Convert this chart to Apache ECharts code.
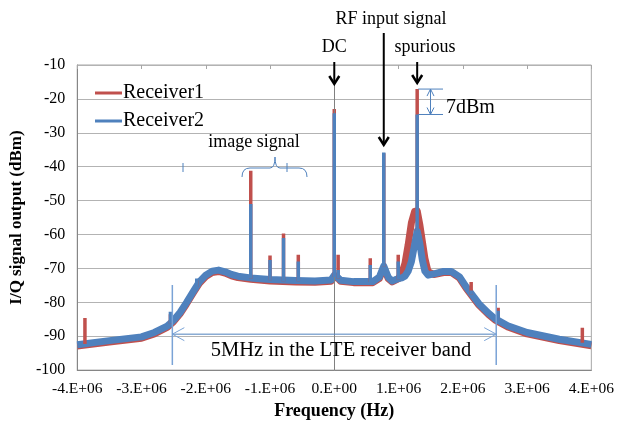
<!DOCTYPE html>
<html>
<head>
<meta charset="utf-8">
<script src="https://cdn.jsdelivr.net/npm/echarts@6/dist/echarts.min.js"></script>
<style>
  html, body { margin: 0; padding: 0; background: #fff; }
  #container { width: 617px; height: 425px; }
</style>
</head>
<body>
<div id="container"></div>
<script>
  // noise floor of the spectrum (Hz / dBm)
  var floorFreq = [-4.0e6, -3.5e6, -3.0e6, -2.8e6, -2.6e6, -2.5e6, -2.4e6, -2.3e6, -2.2e6, -2.1e6,
                   -2.0e6, -1.9e6, -1.8e6, -1.7e6, -1.6e6, -1.5e6, -1.3e6, -1.0e6, -0.6e6, -0.3e6,
                   -0.05e6, 0, 0.05e6, 0.1e6, 0.3e6, 0.6e6, 0.7e6, 0.77e6, 0.84e6, 0.9e6,
                   1.0e6, 1.05e6, 1.1e6, 1.15e6, 1.2e6, 1.25e6, 1.29e6, 1.33e6, 1.37e6, 1.41e6,
                   1.46e6, 1.55e6, 1.7e6, 1.82e6, 1.95e6, 2.05e6, 2.15e6, 2.25e6, 2.4e6, 2.5e6,
                   2.7e6, 3.0e6, 3.5e6, 4.0e6];
  var floorRx1 = [-92.9, -91.7, -90.6, -89.3, -87.4, -85.7, -83.4, -80.5, -77.4, -74.4,
                  -72.4, -71.2, -70.9, -71.4, -72.2, -72.7, -73.2, -73.7, -74.0, -74.1,
                  -73.8, -72.5, -72.8, -73.8, -74.2, -74.2, -73.0, -69.8, -73.0, -74.0,
                  -73.0, -71.5, -68.5, -63.0, -56.5, -53.2, -53.0, -57.0, -62.0, -67.0,
                  -71.0, -71.8, -71.2, -71.2, -72.9, -75.8, -78.3, -80.8, -83.6, -85.2,
                  -87.3, -89.3, -91.3, -92.8];
  var floorRx2 = [-92.5, -91.3, -90.2, -88.9, -87.0, -85.3, -83.0, -80.1, -77.0, -74.0,
                  -72.0, -70.8, -70.5, -71.0, -71.8, -72.3, -72.8, -73.3, -73.6, -73.7,
                  -73.4, -72.0, -72.6, -73.5, -73.9, -73.9, -72.6, -69.3, -72.6, -73.7,
                  -73.0, -72.8, -72.3, -70.8, -68.0, -63.0, -59.0, -62.5, -67.5, -70.8,
                  -72.0, -71.6, -70.9, -70.9, -72.5, -75.4, -77.9, -80.4, -83.2, -84.8,
                  -86.9, -88.9, -90.9, -92.4];

  // narrow tones on top of the floor
  var spikeFreq = [-3.88e6, -2.55e6, -2.14e6, -1.30e6, -1.00e6, -0.79e6, -0.56e6, 0, 0.06e6, 0.56e6,
                   0.77e6, 0.995e6, 1.29e6, 2.13e6, 2.55e6, 3.86e6];
  var spikeBase = [-92.3, -86.2, -75.5, -73.0, -73.5, -73.8, -73.8, -72.5, -73.0, -74.0,
                   -69.5, -73.2, -59.0, -77.8, -85.5, -91.9];
  var spikeRx1 = [-84.6, -83.5, -73.5, -41.2, -66.2, -59.7, -66.0, -23.0, -66.0, -67.0,
                  -36.0, -66.0, -17.1, -74.0, -81.6, -87.5];
  var spikeRx2 = [-92.3, -82.8, -73.0, -51.0, -67.5, -61.0, -68.0, -24.2, -70.5, -69.0,
                  -35.8, -68.0, -24.6, -76.5, -82.5, -91.9];

  var lteBand = [-2.52e6, 2.52e6];

  var red = '#c0504d', blue = '#4f81bd';
  var serif = 'Liberation Serif';

  function pairs(xs, ys) {
    return xs.map(function (x, i) { return [x, ys[i]]; });
  }
  function spikeData(peaks) {
    var d = [];
    spikeFreq.forEach(function (f, i) {
      d.push([f, spikeBase[i]], [f, peaks[i]], [f, '-']);
    });
    return d;
  }
  function freqLabel(v) {
    var m = Math.round(v / 1e6);
    return m + '.E+0' + (m === 0 ? '0' : '6');
  }

  var dom = document.getElementById('container');
  var myChart = echarts.init(dom);

  var option = {
    animation: false,
    grid: { left: 72, right: 25, top: 65, bottom: 52, show: true, borderColor: '#a6a6a6', borderWidth: 1 },
    legend: {
      data: ['Receiver1', 'Receiver2'],
      orient: 'vertical', left: 90, top: 78,
      icon: 'rect', itemWidth: 27, itemHeight: 3, itemGap: 8,
      textStyle: { fontFamily: serif, fontSize: 20, color: '#000', padding: [0, 0, 0, -4] }
    },
    xAxis: [{
      type: 'value', min: -4e6, max: 4e6, interval: 1e6,
      axisLine: { onZero: false, lineStyle: { color: '#868686' } },
      axisTick: { show: false },
      splitLine: { show: false },
      axisLabel: { formatter: freqLabel, fontFamily: serif, fontSize: 15.5, color: '#000', margin: 11 },
      name: 'Frequency (Hz)', nameLocation: 'middle', nameGap: 30,
      nameTextStyle: { fontFamily: serif, fontSize: 18, fontWeight: 'bold', color: '#000' }
    }, {
      type: 'value', position: 'top', min: -4e6, max: 4e6, interval: 1e6,
      axisLine: { show: false },
      axisTick: { inside: true, length: 4, lineStyle: { color: '#a6a6a6' } },
      axisLabel: { show: false },
      splitLine: { show: false }
    }],
    yAxis: {
      type: 'value', min: -100, max: -10, interval: 10,
      axisLine: { show: true, onZero: false, lineStyle: { color: '#868686' } },
      axisTick: { show: false },
      splitLine: { lineStyle: { color: '#b3b3b3' } },
      axisLabel: { fontFamily: serif, fontSize: 16, color: '#000', margin: 12 },
      name: 'I/Q signal output (dBm)', nameLocation: 'middle', nameGap: 46,
      nameTextStyle: { fontFamily: serif, fontSize: 17, fontWeight: 'bold', color: '#000' }
    },
    series: [
      {
        name: 'Receiver1', type: 'line', symbol: 'none', z: 2,
        lineStyle: { color: red, width: 7, join: 'round' }, itemStyle: { color: red },
        data: pairs(floorFreq, floorRx1),
        markLine: {
          silent: true, symbol: 'none', label: { show: false }, animation: false,
          lineStyle: { color: '#808080', width: 1, type: 'solid' },
          data: [{ xAxis: 0 }]
        }
      },
      {
        name: 'Receiver2', type: 'line', symbol: 'none', z: 3,
        lineStyle: { color: blue, width: 7, join: 'round' }, itemStyle: { color: blue },
        data: pairs(floorFreq, floorRx2)
      },
      {
        name: 'Receiver1', type: 'line', symbol: 'none', z: 4,
        lineStyle: { color: red, width: 3.5, join: 'round' }, itemStyle: { color: red },
        data: spikeData(spikeRx1)
      },
      {
        name: 'Receiver2', type: 'line', symbol: 'none', z: 5,
        lineStyle: { color: blue, width: 3.5, join: 'round' }, itemStyle: { color: blue },
        data: spikeData(spikeRx2)
      }
    ]
  };
  myChart.setOption(option, true);

  // annotations
  function px(x, y) { return myChart.convertToPixel({ xAxisIndex: 0, yAxisIndex: 0 }, [x, y]); }
  var g = [];
  function text(t, x, y, size, align) {
    g.push({ type: 'text', z: 100, style: { text: t, x: x, y: y, fill: '#000',
      font: size + 'px "' + serif + '"', align: align || 'center', verticalAlign: 'middle' } });
  }
  function seg(x1, y1, x2, y2, color, w) {
    g.push({ type: 'line', z: 100, shape: { x1: x1, y1: y1, x2: x2, y2: y2 },
      style: { stroke: color, lineWidth: w } });
  }
  function poly(pts, color, w) {
    g.push({ type: 'polyline', z: 100, shape: { points: pts }, style: { stroke: color, lineWidth: w, fill: null } });
  }
  function curve(x1, y1, cx, cy, x2, y2, color) {
    g.push({ type: 'bezierCurve', z: 100, shape: { x1: x1, y1: y1, x2: x2, y2: y2, cpx1: cx, cpy1: cy },
      style: { stroke: color, lineWidth: 1, fill: null } });
  }
  function downArrow(x, y1, y2) {
    seg(x, y1, x, y2, '#000', 2);
    poly([[x - 5, y2 - 8], [x, y2], [x + 5, y2 - 8]], '#000', 2.5);
  }

  var xDC = px(0, -10)[0], xRF = px(0.77e6, -10)[0], xSp = px(1.29e6, -10)[0];
  downArrow(xDC, 62, 84);
  downArrow(xRF, 33, 145);
  downArrow(xSp, 62, 83);
  text('RF input signal', 391, 19, 18);
  text('DC', xDC, 47, 18);
  text('spurious', 425, 47, 18);

  // 7 dB difference marker
  var yTop = px(1.29e6, spikeRx1[12])[1], yBot = px(1.29e6, spikeRx2[12])[1];
  seg(xSp + 1, yTop, 443, yTop, blue, 1);
  seg(xSp + 1, yBot, 443, yBot, blue, 1);
  seg(430.5, yTop, 430.5, yBot, blue, 1);
  poly([[427, yTop + 7], [430.5, yTop], [434, yTop + 7]], blue, 1);
  poly([[427, yBot - 7], [430.5, yBot], [434, yBot - 7]], blue, 1);
  text('7dBm', 446, 108, 20, 'left');

  // image signal brace
  text('image signal', 254, 142, 18);
  curve(242, 177, 242, 168, 250, 168, blue);
  seg(250, 168, 270, 168, blue, 1);
  curve(270, 168, 275, 168, 275, 157, blue);
  curve(275, 157, 275, 168, 280, 168, blue);
  seg(280, 168, 299, 168, blue, 1);
  curve(299, 168, 307, 168, 307, 177, blue);
  seg(183, 163, 183, 172, blue, 1);
  seg(287, 163, 287, 172, blue, 1);

  // LTE band
  var xL = px(lteBand[0], -90)[0], xR = px(lteBand[1], -90)[0];
  var yArr = px(0, -89.4)[1];
  var lteColor = '#7aa3d6';
  seg(xL, 285, xL, 365, lteColor, 1.5);
  seg(xR, 285, xR, 365, lteColor, 1.5);
  seg(xL, yArr, xR, yArr, blue, 1);
  poly([[xL + 12, yArr - 6.5], [xL, yArr], [xL + 12, yArr + 6.5]], lteColor, 1);
  poly([[xR - 12, yArr - 6.5], [xR, yArr], [xR - 12, yArr + 6.5]], lteColor, 1);
  text('5MHz in the LTE receiver band', 341, 351, 20.5);

  myChart.setOption({ graphic: g });
</script>
</body>
</html>
